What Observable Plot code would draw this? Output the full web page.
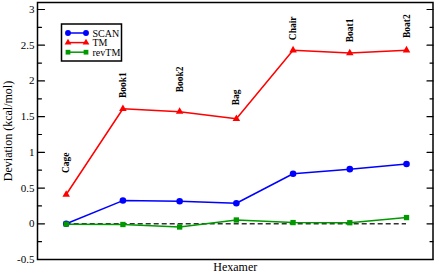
<!DOCTYPE html>
<html><head><meta charset="utf-8">
<script src="https://cdn.jsdelivr.net/npm/d3@7"></script>
<script src="https://cdn.jsdelivr.net/npm/@observablehq/plot@0.6"></script>
<style>body{margin:0;background:#fff} svg text{font-family:"Liberation Serif", "DejaVu Serif", serif !important;}</style>
</head><body><div id="chart"></div>
<script>
const categories = ["Cage","Book1","Book2","Bag","Chair","Boat1","Boat2"];
const scan  = [0, 0.325, 0.315, 0.287, 0.70, 0.765, 0.838];
const tm    = [0.41, 1.61, 1.57, 1.47, 2.43, 2.39, 2.43];
const revtm = [-0.005, -0.01, -0.045, 0.053, 0.017, 0.015, 0.087];
const labelY = [0.71, 1.76, 1.84, 1.66, 2.57, 2.54, 2.6];
const yTicks = [-0.5, 0, 0.5, 1, 1.5, 2, 2.5, 3];
const yMinor = [-0.25, 0.25, 0.75, 1.25, 1.75, 2.25, 2.75];
const seriesNames = ["SCAN","TM","revTM"];
const seriesValues = [scan, tm, revtm];
const colors = ["#0000ff","#ff0000","#009a00"];
const symbols = ["circle","triangle","square"];
const radii = [3.3, 2.8, 3.0];

const font = "Liberation Serif";
const tickShape = {draw(context, l) { context.moveTo(0, 0); context.lineTo(0, -l); }};

const seriesMarks = seriesNames.flatMap((name, s) => {
  const rows = seriesValues[s].map((v, i) => ({x: i + 1, y: v, name}));
  return [
    Plot.line(rows, {x: "x", y: "y", stroke: colors[s], strokeWidth: 1.5}),
    Plot.dot(rows, {x: "x", y: "y", symbol: symbols[s], fill: colors[s], r: radii[s]})
  ];
});

const plot = Plot.plot({
  width: 436,
  height: 273,
  marginLeft: 37,
  marginRight: 3.5,
  marginTop: 2,
  marginBottom: 14,
  style: {fontFamily: font, fontSize: "10px", background: "white", color: "black"},
  x: {domain: [0.494, 7.467], axis: null},
  y: {domain: [-0.5, 3.098], axis: null},
  marks: [
    Plot.ruleY([0], {x1: 1, x2: categories.length, stroke: "#333", strokeWidth: 1.5, strokeDasharray: "5,3"}),
    ...seriesMarks,
    Plot.text(categories, {x: (d, i) => i + 1, y: (d, i) => labelY[i], text: d => d, rotate: -90,
      textAnchor: "start", lineAnchor: "middle", fontWeight: "bold", fontSize: 9.5, fontFamily: font, fill: "black"}),
    Plot.axisY(yTicks, {anchor: "left", tickSize: 0, tickPadding: 3, tickFormat: d => String(d), label: null, fontSize: 11, fontFamily: font}),
    Plot.vector(yTicks, {y: d => d, frameAnchor: "left", rotate: 90, length: 7, anchor: "start", shape: tickShape, stroke: "black", strokeWidth: 1.2}),
    Plot.vector(yMinor, {y: d => d, frameAnchor: "left", rotate: 90, length: 4, anchor: "start", shape: tickShape, stroke: "black", strokeWidth: 1.2}),
    Plot.vector(yTicks, {y: d => d, frameAnchor: "right", rotate: -90, length: 6, anchor: "start", shape: tickShape, stroke: "black", strokeWidth: 1.2}),
    Plot.vector(yMinor, {y: d => d, frameAnchor: "right", rotate: -90, length: 3, anchor: "start", shape: tickShape, stroke: "black", strokeWidth: 1.2}),
    Plot.text(["Deviation (kcal/mol)"], {frameAnchor: "left", dx: -29, rotate: -90, text: d => d, textAnchor: "middle", lineAnchor: "middle", fontSize: 12, fontFamily: font, fill: "black"}),
    Plot.text(["Hexamer"], {frameAnchor: "bottom", dy: 11, text: d => d, textAnchor: "middle", lineAnchor: "bottom", fontSize: 12, fontFamily: font, fill: "black"}),
    Plot.frame({stroke: "black", strokeWidth: 1.5})
  ]
});

// legend
const svg = d3.select(plot);
const lg = svg.append("g").attr("font-family", font).attr("font-size", 10).attr("text-anchor", "start");
lg.append("rect").attr("x", 61.5).attr("y", 24).attr("width", 60).attr("height", 37)
  .attr("fill", "white").attr("stroke", "black").attr("stroke-width", 1.5);
const d3sym = {circle: d3.symbolCircle, triangle: d3.symbolTriangle, square: d3.symbolSquare};
seriesNames.forEach((name, s) => {
  const yy = 33 + s * 9.6;
  lg.append("line").attr("x1", 68).attr("x2", 86).attr("y1", yy).attr("y2", yy)
    .attr("stroke", colors[s]).attr("stroke-width", 1.5);
  [68, 86].forEach(xx => {
    lg.append("path").attr("d", d3.symbol(d3sym[symbols[s]], Math.PI * radii[s] * radii[s] * 0.8)())
      .attr("transform", `translate(${xx},${yy})`).attr("fill", colors[s]);
  });
  lg.append("text").attr("x", 92.5).attr("y", yy + 3.5).attr("fill", "black").attr("text-anchor", "start").text(name);
});

document.getElementById("chart").appendChild(plot);
</script>
</body></html>
